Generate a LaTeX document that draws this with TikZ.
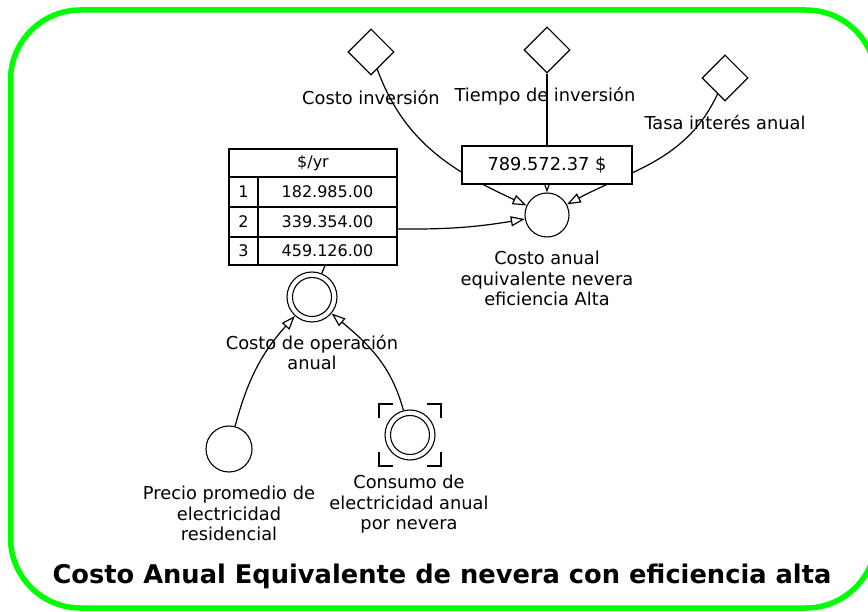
\documentclass[tikz,border=0pt]{standalone}
\usepackage{fontspec}
\setmainfont{DejaVu Sans}
\usepackage{tikz}
\usetikzlibrary{arrows.meta,shapes.geometric}
\definecolor{marco}{RGB}{0,255,0}
\newcommand{\lblsize}{\fontsize{17.8}{20.3}\selectfont}
\newcommand{\tblsize}{\fontsize{16}{19}\selectfont}

\begin{document}
\begin{tikzpicture}[x=1pt,y=1pt,
  decision/.style={diamond,draw,line width=1.1pt,minimum width=46pt,minimum height=46pt,inner sep=0pt},
  chance/.style={circle,draw,line width=1.1pt,minimum size=44pt,inner sep=0pt},
  deter/.style={circle,draw,line width=1.1pt,minimum size=50pt,inner sep=0pt,
    path picture={\draw[line width=1.1pt] (path picture bounding box.center) circle[radius=19.5pt];}},
  lbl/.style={font=\lblsize,align=center,inner sep=0pt,anchor=north},
  link/.style={line width=1.2pt,-{Triangle[length=14pt,width=10pt,fill=white]}}]
\useasboundingbox (0,0) rectangle (868,611);
% green frame
\draw[marco,line width=5.5pt,rounded corners=70pt] (10.5,601) rectangle (876,3);
% decision nodes
\node[decision] (ci) at (371,559) {};
\node[decision] (ti) at (547,561) {};
\node[decision] (ta) at (725,533) {};
\node[lbl] (cil) at (371,521) {Costo inversión};
\node[lbl] (til) at (545,524) {Tiempo de inversión};
\node[lbl] (tal) at (725,496) {Tasa interés anual};
% annual equivalent cost
\node[chance] (cae) at (547,396) {};
\node[lbl] (cael) at (547,360) {Costo anual\\equivalente nevera\\eficiencia Alta};
% table of results
\node[draw,line width=1.1pt,minimum width=168pt,minimum height=116pt,inner sep=0pt] (tbl) at (313,404) {};
\foreach \y in {434,404,374}{
\draw[line width=1.1pt] (229,\y) -- (397,\y);
}
\draw[line width=1.1pt] (258,434) -- (258,346);
\node[font=\tblsize] (hdr) at (313,448) {\$/yr};
\foreach \i/\v/\y in {1/182.985.00/419,2/339.354.00/389,3/459.126.00/360}{
\node[font=\tblsize] (n\i) at (243.5,\y) {\i};
\node[font=\tblsize,minimum width=139pt,minimum height=30pt,inner sep=0pt] (r\i) at (327.5,\y) {\v};
}
% operating cost and its inputs
\node[deter] (cop) at (312,314) {};
\node[lbl] (copl) at (312,276) {Costo de operación\\anual};
\node[chance,minimum size=46pt] (ppe) at (229,162) {};
\node[lbl] (ppel) at (229,125) {Precio promedio de\\electricidad\\residencial};
\node[deter] (cea) at (410,176) {};
\foreach \sx/\sy in {-1/1,1/1,-1/-1,1/-1}{
\draw[line width=1.1pt] ([shift={(\sx*17,\sy*31)}]cea.center) -- ([shift={(\sx*31,\sy*31)}]cea.center) -- ([shift={(\sx*31,\sy*17)}]cea.center);
}
\node[lbl] (ceal) at (409,136) {Consumo de\\electricidad anual\\por nevera};
% connectors
\draw[link] (ci) to[out=-70,in=155] (cae);
\draw[link] (ti) -- (cae);
\draw[link] (ta) to[out=-115,in=28] (cae);
\draw[link] ([yshift=-7pt]r2.east) to[bend right=5] (cae);
\draw[line width=1.2pt] (cop) -- ([xshift=12pt]tbl.south);
\draw[link] (ppe) to[out=75,in=228] (cop);
\draw[link] (cea) to[out=105,in=-40] (cop);
% value box on top of the link
\node[draw,fill=white,line width=1.1pt,minimum width=170pt,minimum height=38pt,font=\lblsize] (vb) at (547,446) {789.572.37 \$};
% title
\node[font=\fontsize{25.7}{30}\selectfont\bfseries,anchor=base] (titulo) at (442,28) {Costo Anual Equivalente de nevera con eficiencia alta};
\end{tikzpicture}
\end{document}
